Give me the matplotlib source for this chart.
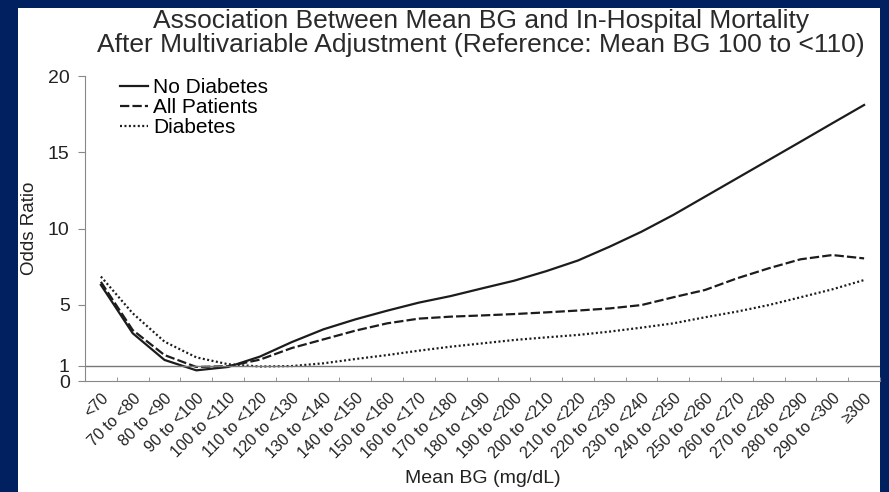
import numpy as np
import matplotlib
matplotlib.use("Agg")
import matplotlib.pyplot as plt
from matplotlib.patches import Rectangle

plt.rcParams['font.family'] = ['Liberation Sans', 'DejaVu Sans']

categories = ['<70'] + ['%d to <%d' % (v, v + 10) for v in range(70, 300, 10)] + ['\u2265300']

no_diabetes = [6.3, 3.13, 1.38, 0.7, 0.92, 1.6, 2.55, 3.39, 4.04, 4.61, 5.14, 5.57, 6.08,
               6.58, 7.2, 7.9, 8.81, 9.79, 10.89, 12.09, 13.29, 14.49, 15.69, 16.9, 18.1]
all_patients = [6.5, 3.34, 1.7, 0.92, 0.97, 1.4, 2.16, 2.73, 3.3, 3.78, 4.09, 4.22, 4.3,
                4.39, 4.5, 4.62, 4.76, 4.98, 5.49, 5.97, 6.73, 7.39, 7.98, 8.26, 8.04]
diabetes = [6.85, 4.44, 2.58, 1.55, 1.1, 0.95, 0.98, 1.16, 1.44, 1.70, 1.99, 2.25, 2.47,
            2.69, 2.86, 3.02, 3.24, 3.5, 3.78, 4.18, 4.55, 4.98, 5.49, 6.01, 6.62]

W, H = 889, 492
fig = plt.figure(figsize=(W / 100, H / 100), dpi=100, facecolor='#002060')
# white panel on the navy slide
fig.patches.append(Rectangle((18 / W, 0), 862 / W, 484 / H, transform=fig.transFigure,
                             facecolor='white', edgecolor='none', zorder=-10))

ax = fig.add_axes([85 / W, (H - 381) / H, 795 / W, 305 / H])
ax.set_facecolor('none')

x = np.arange(len(categories))
ink = '#1c1c1c'
ax.plot(x, no_diabetes, color=ink, lw=1.6, label='No Diabetes')
ax.plot(x, all_patients, color=ink, lw=1.6, dashes=(4.2, 1.4), label='All Patients')
ax.plot(x, diabetes, color=ink, lw=1.6, dashes=(0.9, 1.1), label='Diabetes')
ax.axhline(1, color='#777777', lw=1)

ax.set_xlim(-0.5, len(categories) - 0.5)
ax.set_ylim(0, 20)
ax.set_yticks([0, 1, 5, 10, 15, 20])
ax.set_xticks(x)
ax.set_xticklabels(categories, rotation=45, ha='right', rotation_mode='anchor', fontsize=11.5,
                   color='#222222')
ax.set_xticks(np.arange(len(categories) + 1) - 0.5, minor=True)
ax.tick_params(axis='x', which='major', length=0, pad=7)
ax.tick_params(axis='x', which='minor', direction='in', length=3, color='#888888')
ax.tick_params(axis='y', length=5, pad=6, color='#888888', labelsize=14, labelcolor='#222222')

for s in ['top', 'right']:
    ax.spines[s].set_visible(False)
for s in ['left', 'bottom']:
    ax.spines[s].set_color('#888888')

ax.set_ylabel('Odds Ratio', fontsize=13.5, labelpad=7, color='#222222')
ax.set_xlabel('Mean BG (mg/dL)', fontsize=14, labelpad=6, color='#222222')

fig.text(481 / W, 1 - 33 / H,
         'Association Between Mean BG and In-Hospital Mortality\n'
         'After Multivariable Adjustment (Reference: Mean BG 100 to <110)',
         ha='center', va='center', fontsize=19, linespacing=0.95, color='#2a2a2a')

ax.legend(loc='upper left', bbox_to_anchor=(0.02, 1.055), frameon=False, fontsize=15,
          handlelength=1.35, handletextpad=0.25, labelspacing=0.05)

fig.savefig('out.png', dpi=100, facecolor=fig.get_facecolor())
